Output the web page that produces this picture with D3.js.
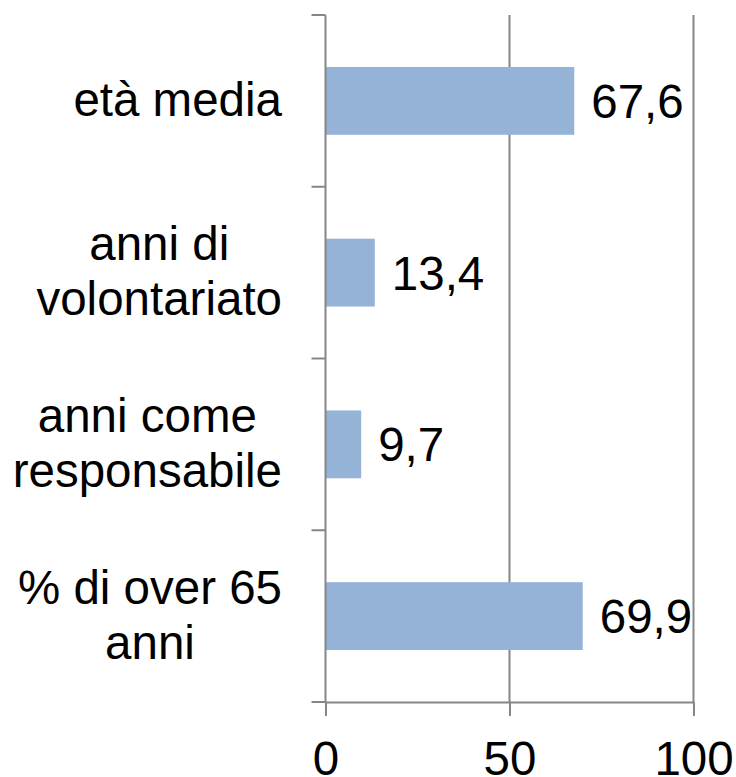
<!DOCTYPE html>
<html>
<head>
<meta charset="utf-8">
<script src="https://cdn.jsdelivr.net/npm/d3@7"></script>
<style>
  html, body { margin: 0; padding: 0; background: #fff; }
  svg { display: block; }
  text { font-family: "Liberation Sans", Arial, sans-serif; fill: #000; }
</style>
</head>
<body>
<svg id="chart" width="736" height="777"></svg>
<script>
const categories = ["età media", "anni di\nvolontariato", "anni come\nresponsabile", "% di over 65\nanni"];
const values = [67.6, 13.4, 9.7, 69.9];
const valueLabels = ["67,6", "13,4", "9,7", "69,9"];
const xTicks = [0, 50, 100];

(function() {
const svg = d3.select("#chart");
const plotLeft = 325.5, plotRight = 693.5, plotTop = 15, plotBottom = 702;
const fontSize = 47.5;
const grey = "#868686";
const barColor = "#95B3D7";

const x = d3.scaleLinear().domain([0, 100]).range([plotLeft, plotRight]);
const y = d3.scaleBand().domain(categories).range([plotTop, plotBottom]).paddingInner(0.605).paddingOuter(0.3025);
const step = y.step();
const bandStart = y.range()[0];

// gridlines
svg.append("g").selectAll("line").data(xTicks.filter(d => d > 0)).join("line")
  .attr("x1", d => x(d)).attr("x2", d => x(d))
  .attr("y1", plotTop).attr("y2", plotBottom)
  .attr("stroke", grey).attr("stroke-width", 2);

// bars
svg.append("g").selectAll("rect").data(categories).join("rect")
  .attr("x", x(0))
  .attr("y", d => y(d))
  .attr("width", (d, i) => x(values[i]) - x(0))
  .attr("height", y.bandwidth())
  .attr("fill", barColor);

// y axis line
svg.append("line")
  .attr("x1", x(0)).attr("x2", x(0)).attr("y1", plotTop).attr("y2", plotBottom)
  .attr("stroke", grey).attr("stroke-width", 2);

// y ticks at band boundaries
svg.append("g").selectAll("line").data(d3.range(categories.length + 1)).join("line")
  .attr("x1", x(0) - 14).attr("x2", x(0))
  .attr("y1", i => bandStart + i * step).attr("y2", i => bandStart + i * step)
  .attr("stroke", grey).attr("stroke-width", 2);

// x axis
const xAxis = d3.axisBottom(x).tickValues(xTicks).tickSize(14).tickSizeOuter(0).tickFormat(d3.format("d"));
const gx = svg.append("g").attr("transform", `translate(0,${plotBottom})`).call(xAxis);
gx.select(".domain").attr("stroke", grey).attr("stroke-width", 2);
gx.selectAll(".tick line").attr("stroke", grey).attr("stroke-width", 2);
gx.selectAll(".tick text")
  .attr("y", 73).attr("dy", 0)
  .style("font-size", fontSize + "px")
  .style("font-family", '"Liberation Sans", Arial, sans-serif')
  .attr("fill", "#000");

// value labels
svg.append("g").selectAll("text").data(categories).join("text")
  .attr("x", (d, i) => x(values[i]) + 17)
  .attr("y", d => y(d) + y.bandwidth() / 2)
  .attr("dy", "0.36em")
  .style("font-size", fontSize + "px")
  .text((d, i) => valueLabels[i]);

// category labels
const lineH = 55;
const labelRight = 282;
categories.forEach(c => {
  const lines = c.split("\n");
  const cy = y(c) + y.bandwidth() / 2;
  const t = svg.append("text")
    .attr("text-anchor", "middle")
    .style("font-size", fontSize + "px");
  const firstBase = cy - (lines.length - 1) * lineH / 2 + 15;
  lines.forEach((ln, k) => {
    t.append("tspan").attr("y", firstBase + k * lineH).text(ln);
  });
  let maxW = 0;
  t.selectAll("tspan").each(function() { maxW = Math.max(maxW, this.getComputedTextLength()); });
  t.selectAll("tspan").attr("x", labelRight - maxW / 2);
});
})();
</script>
</body>
</html>
